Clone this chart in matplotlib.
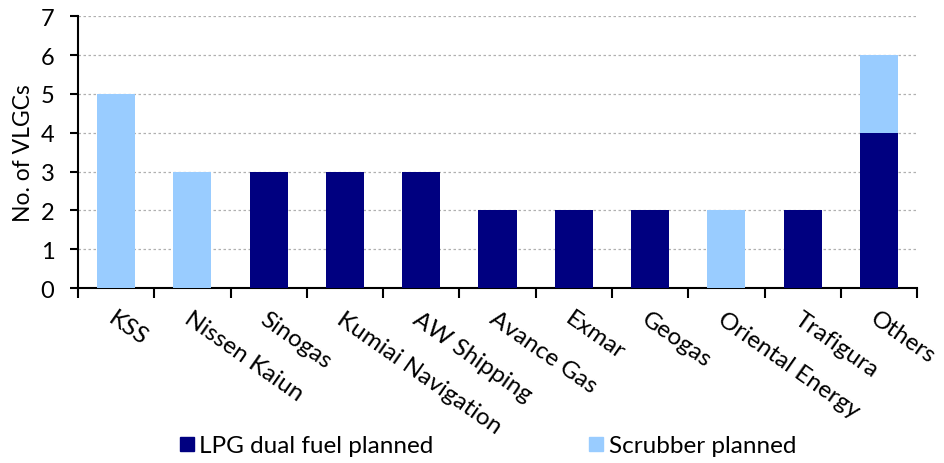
import numpy as np
import matplotlib.pyplot as plt
from matplotlib.lines import Line2D

plt.rcParams['font.family'] = ['Lato', 'DejaVu Sans']

companies = ['KSS', 'Nissen Kaiun', 'Sinogas', 'Kumiai Navigation', 'AW Shipping',
             'Avance Gas', 'Exmar', 'Geogas', 'Oriental Energy', 'Trafigura', 'Others']
lpg_dual_fuel = [0, 0, 3, 3, 3, 2, 2, 2, 0, 2, 4]
scrubber = [5, 3, 0, 0, 0, 0, 0, 0, 2, 0, 2]

navy = '#000080'
light = '#99CCFF'

fig = plt.figure(figsize=(9.45, 4.64), dpi=100)
ax = fig.add_axes([0.0825, 0.377, 0.888, 0.586])

x = np.arange(len(companies))
ax.bar(x, lpg_dual_fuel, width=0.5, color=navy, zorder=3)
ax.bar(x, scrubber, width=0.5, bottom=lpg_dual_fuel, color=light, zorder=3)

ax.set_xlim(-0.5, len(companies) - 0.5)
ax.set_ylim(0, 7)
ax.set_yticks(range(0, 8))
ax.yaxis.grid(True, linestyle=(0, (2, 2)), color='#b0b0b0', linewidth=0.9, zorder=0)

# boundary ticks, labels at the centres
ax.set_xticks(np.arange(-0.5, len(companies)), labels=[])
ax.set_xticks(x, minor=True)
ax.set_xticklabels(companies, minor=True, rotation=-35, ha='left', va='top',
                   rotation_mode='anchor', fontsize=17.5)
ax.tick_params(axis='x', which='minor', length=0, pad=14)
ax.tick_params(axis='x', which='major', length=7, width=1.5, direction='out')
ax.tick_params(axis='y', length=6, width=1.5, labelsize=17, pad=11)

for s in ['top', 'right']:
    ax.spines[s].set_visible(False)
for s in ['left', 'bottom']:
    ax.spines[s].set_linewidth(1.5)

ax.set_ylabel('No. of VLGCs', fontsize=16.5, labelpad=5)

handles = [Line2D([], [], marker='s', color=navy, linestyle='', markersize=10),
           Line2D([], [], marker='s', color=light, linestyle='', markersize=10)]
fig.legend(handles, ['LPG dual fuel planned', 'Scrubber planned'],
           loc='center', bbox_to_anchor=(0.515, 0.037), ncol=2, frameon=False,
           fontsize=17.5, handletextpad=0.1, columnspacing=6.3, handlelength=0.8)

fig.savefig('out.png', dpi=100)
